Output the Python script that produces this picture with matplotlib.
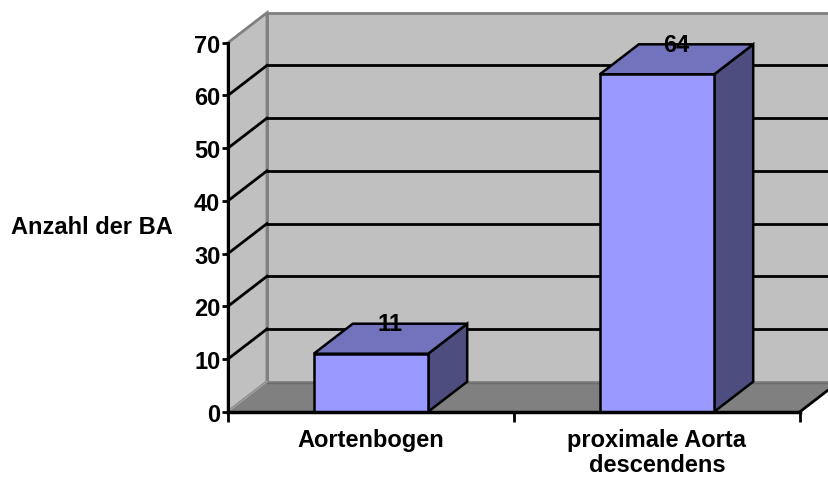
import matplotlib
matplotlib.use("Agg")
import matplotlib.pyplot as plt
from matplotlib.patches import Polygon, Rectangle

categories = ["Aortenbogen", "proximale Aorta\ndescendens"]
values = [11, 64]
yticks = [0, 10, 20, 30, 40, 50, 60, 70]

plt.rcParams['font.family'] = ['Liberation Sans', 'DejaVu Sans']
FS = 17
W, H = 829, 481
fig = plt.figure(figsize=(W / 100, H / 100), dpi=100)
# front plane of the 3D box
x0, x1 = 228, 800
y0, y1 = 412.7, 43.7
ax = fig.add_axes([x0 / W, (H - y0) / H, (x1 - x0) / W, (y0 - y1) / H])
ax.set_xlim(0, 2)
ax.set_ylim(0, 70)
ax.patch.set_visible(False)

# depth offset in data units (39 px right, 30 px up)
dx = 39 / (x1 - x0) * 2
dy = 30 / (y0 - y1) * 70
ymax = 70

wall = '#C0C0C0'
floor = '#808080'
edge = '#808080'

# back wall
ax.add_patch(Rectangle((dx, dy), 2, ymax, facecolor=wall, edgecolor=edge, lw=2,
                       clip_on=False, zorder=1))
# left wall
ax.add_patch(Polygon([(0, 0), (dx, dy), (dx, ymax + dy), (0, ymax)], closed=True,
                     facecolor=wall, edgecolor=edge, lw=2, clip_on=False, zorder=1))
# gridlines
for v in yticks[1:-1]:
    ax.plot([dx, 2 + dx], [v + dy, v + dy], color='black', lw=2, clip_on=False, zorder=2)
    ax.plot([0, dx], [v, v + dy], color='black', lw=2, clip_on=False, zorder=2)
# floor
ax.add_patch(Polygon([(0, 0), (2, 0), (2 + dx, dy), (dx, dy)], closed=True,
                     facecolor=floor, edgecolor='none', clip_on=False, zorder=3))
ax.plot([dx, 2 + dx], [dy * 0.97, dy * 0.97], color='#6a6a6a', lw=1, clip_on=False, zorder=3)
ax.plot([0, dx], [0, dy], color='#a0a0a0', lw=1, clip_on=False, zorder=3)
ax.plot([2, 2 + dx], [0, dy], color='black', lw=2, clip_on=False, zorder=3)

# bars
bw = 0.2
front_c = '#9999FF'
top_c = '#7373BD'
side_c = '#4D4D80'
for i, v in enumerate(values):
    c = i + 0.5
    ax.add_patch(Polygon([(c + bw, 0), (c + bw + dx, dy), (c + bw + dx, v + dy), (c + bw, v)],
                         closed=True, facecolor=side_c, edgecolor='black', lw=1.8,
                         clip_on=False, zorder=5))
    ax.add_patch(Polygon([(c - bw, v), (c + bw, v), (c + bw + dx, v + dy), (c - bw + dx, v + dy)],
                         closed=True, facecolor=top_c, edgecolor='black', lw=1.8,
                         clip_on=False, zorder=5))
    ax.add_patch(Rectangle((c - bw, 0), 2 * bw, v, facecolor=front_c, edgecolor='black',
                           lw=1.8, clip_on=False, zorder=6))
    ax.text(c + dx / 2, v + dy, str(v), ha='center', va='center', fontsize=FS,
            fontweight='bold', zorder=7)

# axes
for s in ['top', 'right']:
    ax.spines[s].set_visible(False)
ax.spines['left'].set_linewidth(2.2)
ax.spines['bottom'].set_linewidth(2.5)
ax.spines['left'].set_zorder(8)
ax.spines['bottom'].set_zorder(8)
ax.set_yticks(yticks)
ax.set_yticklabels([str(t) for t in yticks], fontsize=FS, fontweight='bold')
ax.tick_params(axis='y', length=4.5, width=2, pad=1)
ax.set_xticks([0, 1, 2])
ax.set_xticklabels([])
ax.tick_params(axis='x', which='major', length=7, width=2)
ax.set_xticks([0.5, 1.5], minor=True)
ax.set_xticklabels(categories, minor=True, fontsize=FS, fontweight='bold', linespacing=1.1)
ax.tick_params(axis='x', which='minor', length=0, pad=12)

fig.text(92 / W, 1 - 228 / H, "Anzahl der BA", ha='center', va='center',
         fontsize=FS, fontweight='bold')

fig.savefig("out.png", dpi=100)
